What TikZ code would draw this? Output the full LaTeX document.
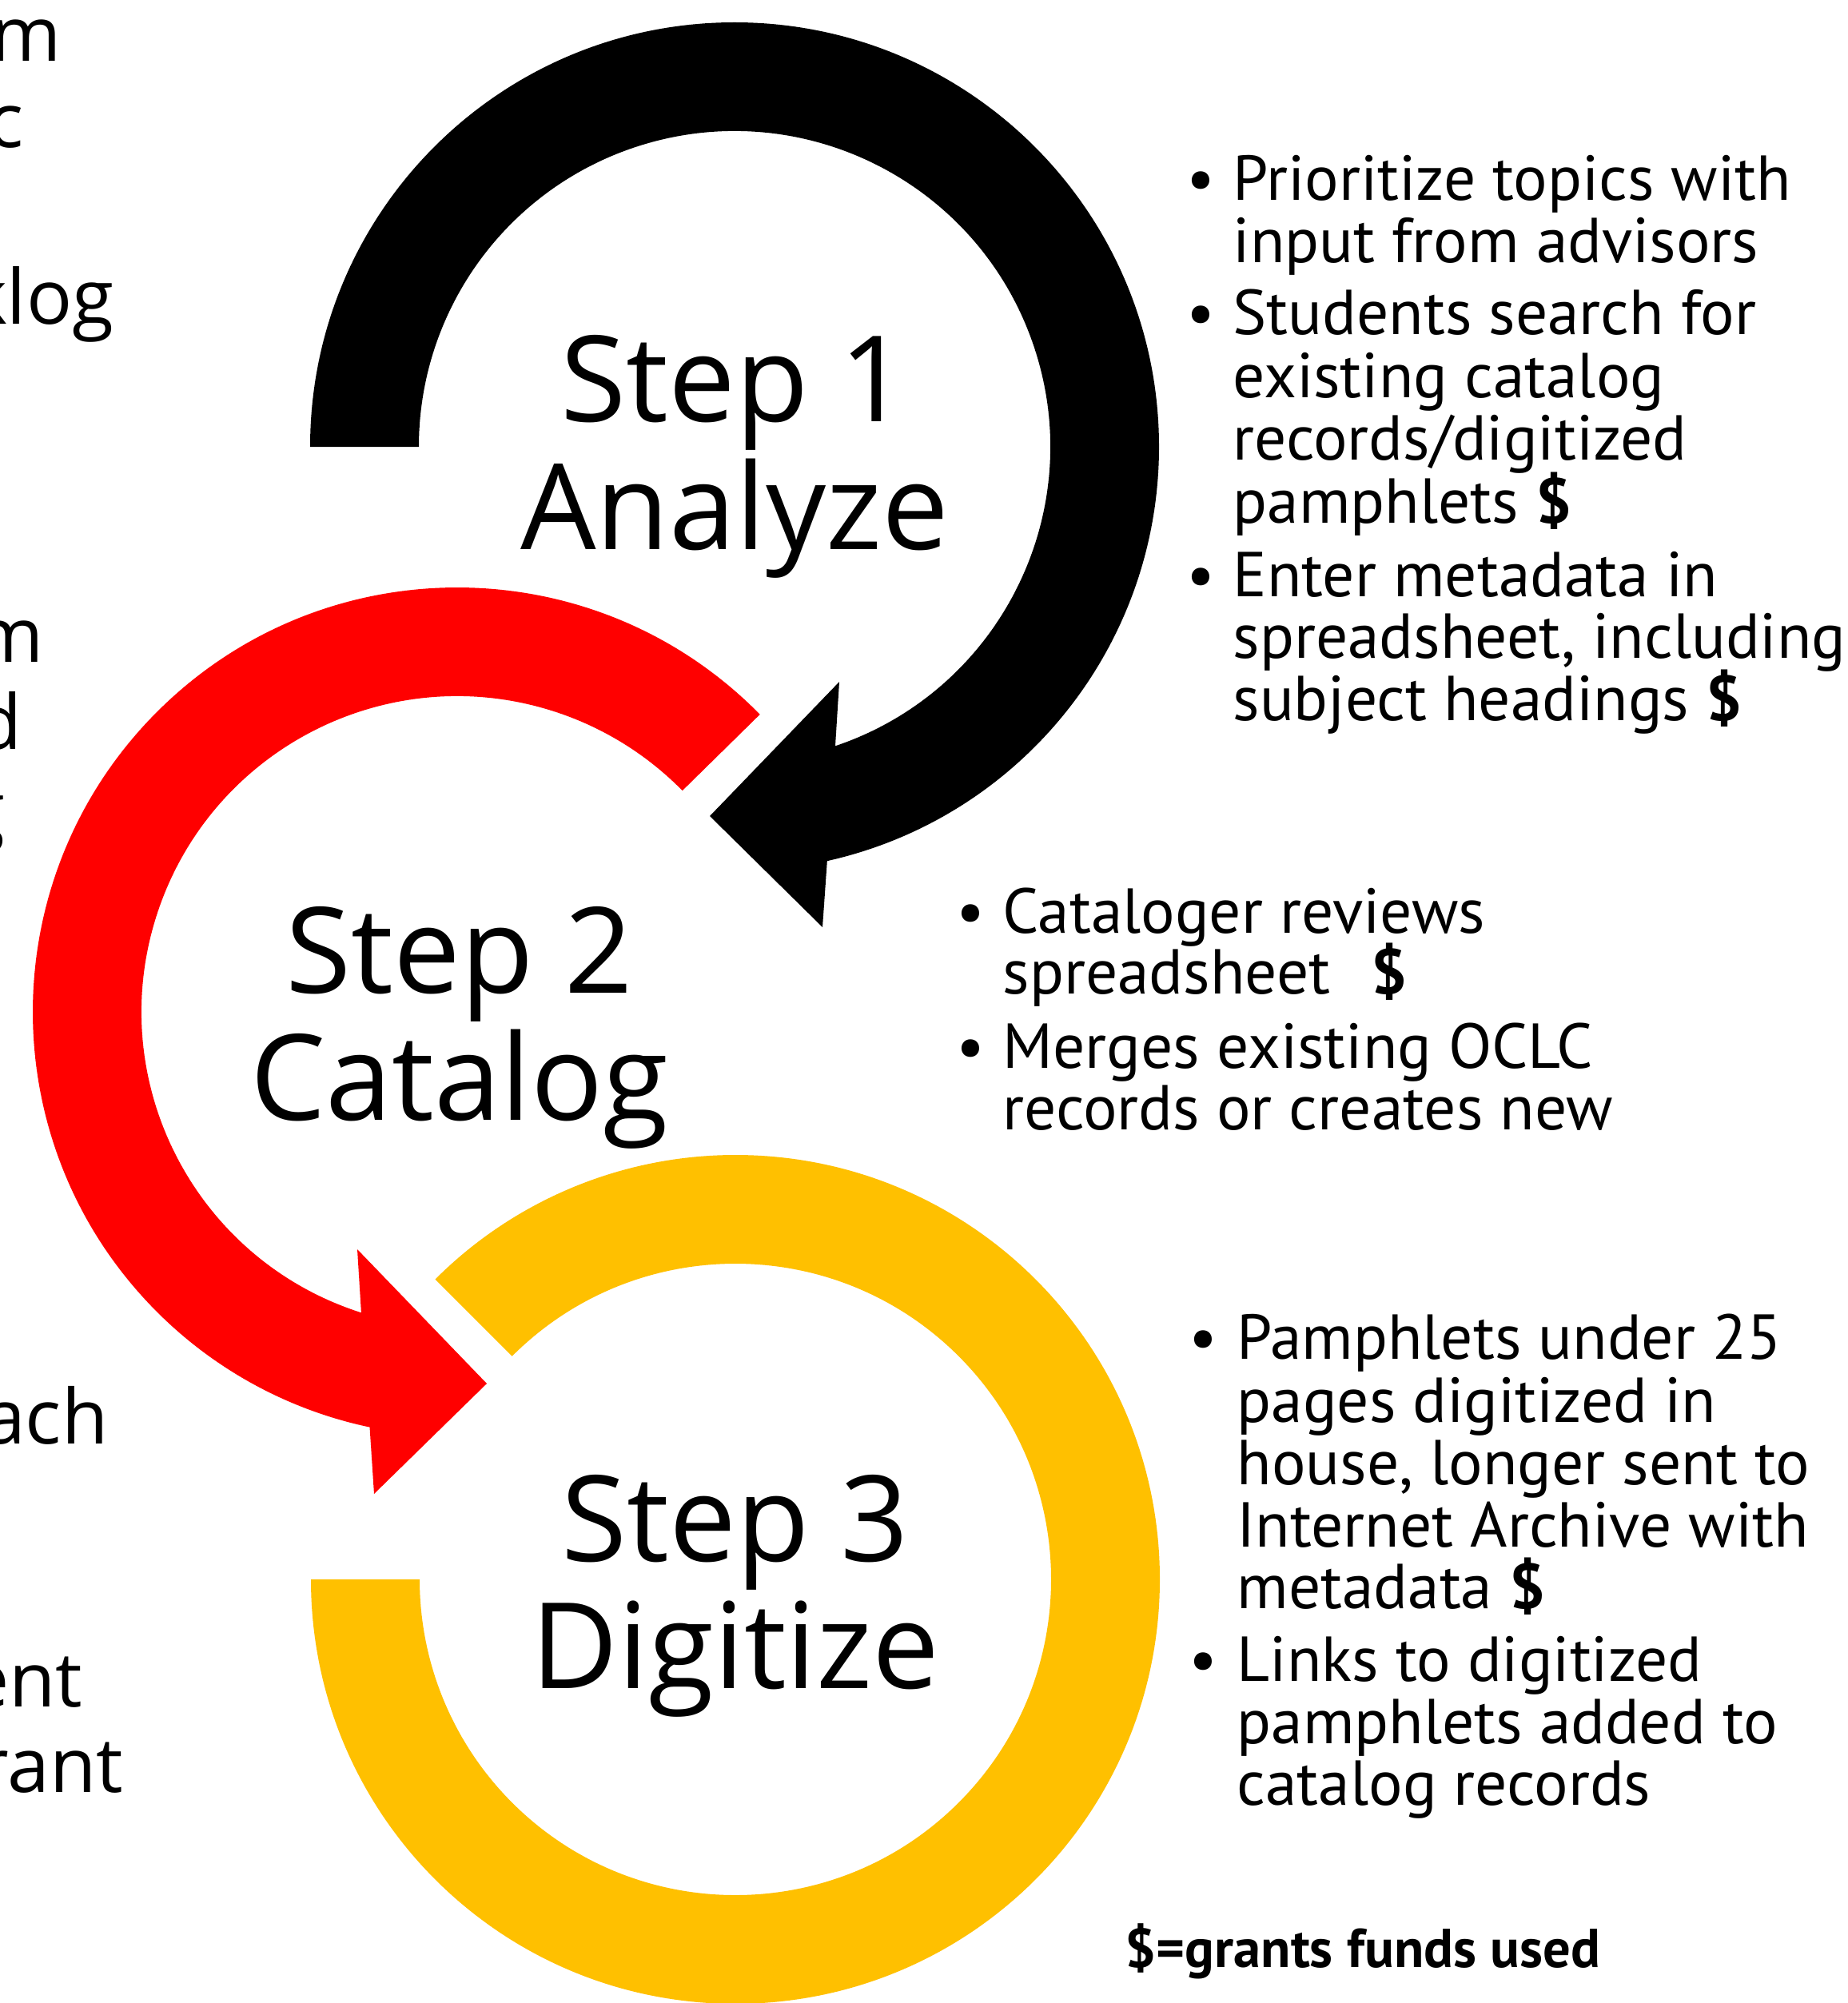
\documentclass[tikz,border=0pt]{standalone}
\usepackage{fontspec}
\setmainfont{Open Sans}
\newfontfamily\bulfont{PT Sans}
\usetikzlibrary{calc}
\definecolor{gold}{HTML}{FFC000}
\definecolor{redarc}{HTML}{FF0000}
\begin{document}
\begin{tikzpicture}[
  steptxt/.style={font=\fontsize{42.5}{50}\selectfont, inner sep=0, anchor=base},
  bul/.style={font=\bulfont\fontsize{22.6}{26}\selectfont, inner sep=0, anchor=base west},
  dot/.style={font=\bulfont\fontsize{22.6}{26}\selectfont, inner sep=0, anchor=base},
  frag/.style={font=\fontsize{27}{32}\selectfont, inner sep=0, anchor=base east},
  note/.style={font=\bulfont\bfseries\fontsize{19.5}{23}\selectfont, inner sep=0, anchor=base},
]
\useasboundingbox (0,0) rectangle (23.11,-25.06);
\clip (0,0) rectangle (23.11,-25.06);
\fill[white] (0,0) rectangle (23.11,-25.06);

% centres
\coordinate (Cb) at (9.19,-5.59);
\coordinate (Cr) at (5.72,-12.66);
\coordinate (Cy) at (9.20,-19.76);

% black circular arrow (Step 1)
\fill[black] ($(Cb)+(180:5.31)$) arc[start angle=180, end angle=-77.4, radius=5.31]
  -- (10.29,-11.60) -- (8.88,-10.21) -- (10.50,-8.53)
  -- ($(Cb)+(-71.4:3.95)$) arc[start angle=-71.4, end angle=180, radius=3.95] -- cycle;

% red circular arrow (Step 2)
\fill[redarc] ($(Cr)+(44.5:5.31)$) arc[start angle=44.5, end angle=258.1, radius=5.31]
  -- (4.68,-18.69) -- (6.09,-17.31) -- (4.47,-15.63)
  -- ($(Cr)+(252.3:3.95)$) arc[start angle=252.3, end angle=44.5, radius=3.95] -- cycle;

% gold arc (Step 3)
\fill[gold] ($(Cy)+(180:5.31)$) arc[start angle=180, end angle=495, radius=5.31]
  -- ($(Cy)+(135:3.95)$) arc[start angle=495, end angle=180, radius=3.95] -- cycle;

% step labels
\node[steptxt] (s1a) at (9.19,-5.27) {Step 1};
\node[steptxt] (s1b) at (9.19,-6.87) {Analyze};
\node[steptxt] (s2a) at (5.75,-12.42) {Step 2};
\node[steptxt] (s2b) at (5.75,-14.01) {Catalog};
\node[steptxt] (s3a) at (9.20,-19.53) {Step 3};
\node[steptxt] (s3b) at (9.20,-21.12) {Digitize};

% bullets block 1
\node[dot] (d1a) at (15.02,-2.51) {•};
\node[bul] (t1a) at (15.42,-2.51) {Prioritize topics with};
\node[bul] (t1b) at (15.42,-3.29) {input from advisors};
\node[dot] (d1b) at (15.02,-4.19) {•};
\node[bul] (t1c) at (15.42,-4.19) {Students search for};
\node[bul] (t1d) at (15.42,-4.97) {existing catalog};
\node[bul] (t1e) at (15.42,-5.75) {records/digitized};
\node[bul] (t1f) at (15.42,-6.54) {pamphlets \textbf{\$}};
\node[dot] (d1c) at (15.02,-7.46) {•};
\node[bul] (t1g) at (15.42,-7.46) {Enter metadata in};
\node[bul] (t1h) at (15.42,-8.23) {spreadsheet, including};
\node[bul] (t1i) at (15.42,-9.01) {subject headings \textbf{\$}};

% bullets block 2
\node[dot] (d2a) at (12.14,-11.67) {•};
\node[bul] (t2a) at (12.54,-11.67) {Cataloger reviews};
\node[bul] (t2b) at (12.54,-12.43) {spreadsheet\hspace{0.65em}\textbf{\$}};
\node[dot] (d2b) at (12.14,-13.36) {•};
\node[bul] (t2c) at (12.54,-13.36) {Merges existing OCLC};
\node[bul] (t2d) at (12.54,-14.13) {records or creates new};

% bullets block 3
\node[dot] (d3a) at (15.05,-17.00) {•};
\node[bul] (t3a) at (15.47,-17.00) {Pamphlets under 25};
\node[bul] (t3b) at (15.47,-17.79) {pages digitized in};
\node[bul] (t3c) at (15.47,-18.57) {house, longer sent to};
\node[bul] (t3d) at (15.47,-19.35) {Internet Archive with};
\node[bul] (t3e) at (15.47,-20.12) {metadata \textbf{\$}};
\node[dot] (d3b) at (15.05,-21.03) {•};
\node[bul] (t3f) at (15.47,-21.03) {Links to digitized};
\node[bul] (t3g) at (15.47,-21.81) {pamphlets added to};
\node[bul] (t3h) at (15.47,-22.58) {catalog records};

\node[note] (nt) at (17.05,-24.61) {\$=grants funds used};

% clipped fragments at the left edge
\node[frag] (f1) at (0.77,-0.77) {om};
\node[frag] (f2) at (0.30,-1.85) {c};
\node[frag] (f3) at (1.43,-4.05) {klog};
\node[frag] (f4) at (0.55,-8.28) {m};
\node[frag] (f5) at (0.28,-9.37) {d};
\node[frag] (f6) at (0.07,-10.46) {g};
\node[frag] (f7) at (1.36,-18.06) {ach};
\node[frag] (f8) at (1.04,-21.35) {ent};
\node[frag] (f9) at (1.55,-22.42) {rant};
\end{tikzpicture}
\end{document}
